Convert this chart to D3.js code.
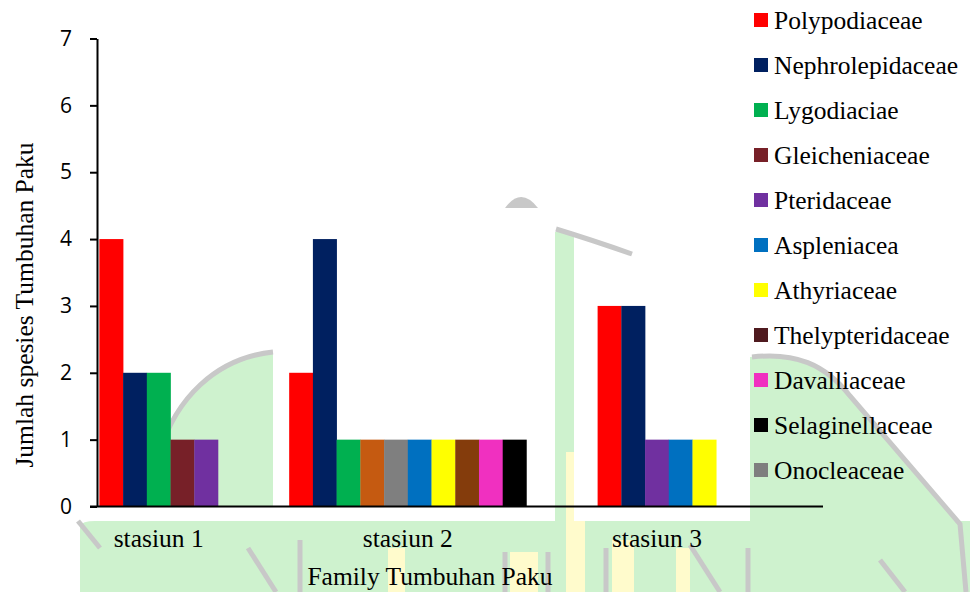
<!DOCTYPE html>
<html>
<head>
<meta charset="utf-8">
<script src="https://cdn.jsdelivr.net/npm/d3@7/dist/d3.min.js"></script>
<style>
  body { margin: 0; background: #ffffff; }
  .ticklabel { font-family: "Open Sans", "Noto Sans", sans-serif; font-size: 21px; fill: #000; }
  .serif { font-family: "Liberation Serif", "Times New Roman", serif; font-size: 25.5px; fill: #000; }
</style>
</head>
<body>
<div id="chart"></div>
<script>
// data
const stations = ["stasiun 1", "stasiun 2", "stasiun 3"];

const families = ["Polypodiaceae", "Nephrolepidaceae", "Lygodiaciae", "Gleicheniaceae", "Pteridaceae",
  "Aspleniacea", "Athyriaceae", "Thelypteridaceae", "Davalliaceae", "Selaginellaceae", "Onocleaceae"];

const station1Families = ["Polypodiaceae", "Nephrolepidaceae", "Lygodiaciae", "Gleicheniaceae", "Pteridaceae"];
const station1Counts = [4, 2, 2, 1, 1];

const station2Families = ["Polypodiaceae", "Nephrolepidaceae", "Lygodiaciae", "Gleicheniaceae", "Onocleaceae",
  "Aspleniacea", "Athyriaceae", "Thelypteridaceae", "Davalliaceae", "Selaginellaceae"];
const station2Counts = [2, 4, 1, 1, 1, 1, 1, 1, 1, 1];

const station3Families = ["Polypodiaceae", "Nephrolepidaceae", "Pteridaceae", "Aspleniacea", "Athyriaceae"];
const station3Counts = [3, 3, 1, 1, 1];

const yTicks = [0, 1, 2, 3, 4, 5, 6, 7];

// colours
const familyColors = ["#FF0000", "#002060", "#00B050", "#772028", "#7030A0",
  "#0070C0", "#FFFF00", "#4F1A1F", "#F030C0", "#000000", "#7F7F7F"];
// the second station uses two other shades in the original
const stationOverride = {
  "stasiun 2|Gleicheniaceae": "#C55A11",
  "stasiun 2|Thelypteridaceae": "#843C0C"
};

let chartW = 970, chartH = 592;
let plotLeft = 97, plotRight = 823, plotTop = 38.5, plotBottom = 506.5;
let groupGap = 3;

let svg = d3.select("#chart")
  .append("svg")
  .attr("width", chartW)
  .attr("height", chartH);

// faint logo watermark behind the chart
let wm = svg.append("g").attr("class", "watermark");
let green = "#CEF2CE", grey = "#C8C8C8", pale = "#FFFBCC";

wm.append("path")
  .attr("d", "M80,526 Q82,521 95,521 L970,521 L970,592 L80,592 Z")
  .attr("fill", green);
wm.append("path")
  .attr("d", "M160,452 C175,400 215,358 273,352 L273,506 L160,506 Z")
  .attr("fill", green);
wm.append("rect").attr("x", 555).attr("y", 232).attr("width", 19).attr("height", 289).attr("fill", green);
wm.append("path")
  .attr("d", "M750,357 C795,352 825,364 850,396 L960,524 L970,532 L970,592 L750,592 Z")
  .attr("fill", green);

// pale yellow stripes
[[388, 548, 17, 44], [510, 552, 28, 40], [566, 452, 8, 70], [566, 521, 19, 71], [612, 540, 22, 52], [676, 548, 14, 44]]
  .forEach(function(r) {
    wm.append("rect").attr("x", r[0]).attr("y", r[1]).attr("width", r[2]).attr("height", r[3]).attr("fill", pale);
  });

// grey outlines
["M160,452 C175,400 215,358 273,352",
 "M556,229 Q592,240 632,254",
 "M752,357 C795,352 825,364 850,396 L960,524 L966,592",
 "M78,521 L100,548",
 "M248,548 L276,592",
 "M300,540 L300,592",
 "M505,552 L505,592",
 "M548,552 L548,592",
 "M606,548 L606,592",
 "M690,545 L720,592",
 "M748,548 L748,592",
 "M880,560 L905,592"]
  .forEach(function(p) {
    wm.append("path").attr("d", p).attr("fill", "none")
      .attr("stroke", grey).attr("stroke-width", 5);
  });
wm.append("path").attr("d", "M505,208 Q521,186 538,208 Z").attr("fill", grey);

// bars: every bar takes one slot, the stations are separated by a gap
let stationFamilies = [station1Families, station2Families, station3Families];
let stationCounts = [station1Counts, station2Counts, station3Counts];

let bars = [];
let groups = [];
let offset = 0;
stations.forEach(function(s, k) {
  stationFamilies[k].forEach(function(f, j) {
    bars.push({ station: s, family: f, value: stationCounts[k][j], slot: offset + j });
  });
  groups.push({ station: s, center: offset + stationFamilies[k].length / 2 });
  offset += stationFamilies[k].length + groupGap;
});

let x = d3.scaleLinear()
  .domain([-0.1, 30.5])
  .range([plotLeft, plotRight]);

let y = d3.scaleLinear()
  .domain([0, 7])
  .range([plotBottom, plotTop]);

let color = d3.scaleOrdinal()
  .domain(families)
  .range(familyColors);

let barWidth = x(1) - x(0);

svg.selectAll(".bar")
  .data(bars)
  .enter().append("rect")
  .attr("class", "bar")
  .attr("x", function(d) { return x(d.slot); })
  .attr("y", function(d) { return y(d.value); })
  .attr("width", barWidth + 0.3)
  .attr("height", function(d) { return y(0) - y(d.value); })
  .attr("fill", function(d) {
    return stationOverride[d.station + "|" + d.family] || color(d.family);
  });

// value axis
let yAxis = d3.axisLeft(y)
  .tickValues(yTicks)
  .tickSize(7)
  .tickSizeOuter(0)
  .tickPadding(18)
  .tickFormat(d3.format("d"));

let gy = svg.append("g")
  .attr("transform", "translate(" + plotLeft + ",0)")
  .call(yAxis);
gy.attr("font-family", null).attr("font-size", null);
gy.select(".domain").attr("stroke", "#000").attr("stroke-width", 2);
gy.selectAll(".tick line").attr("stroke", "#000").attr("stroke-width", 2);
gy.selectAll(".tick text").attr("class", "ticklabel");

// category axis line
svg.append("line")
  .attr("x1", plotLeft - 7)
  .attr("x2", plotRight)
  .attr("y1", y(0))
  .attr("y2", y(0))
  .attr("stroke", "#000")
  .attr("stroke-width", 2);

svg.selectAll(".stationlabel")
  .data(groups)
  .enter().append("text")
  .attr("class", "serif")
  .attr("x", function(d) { return x(d.center); })
  .attr("y", 547)
  .style("text-anchor", "middle")
  .text(function(d) { return d.station; });

// axis titles
svg.append("text")
  .attr("class", "serif")
  .attr("x", 430)
  .attr("y", 585)
  .style("text-anchor", "middle")
  .text("Family Tumbuhan Paku");

svg.append("text")
  .attr("class", "serif")
  .attr("transform", "translate(33,305) rotate(-90)")
  .style("text-anchor", "middle")
  .text("Jumlah spesies Tumbuhan Paku");

// legend
let legendY = d3.scalePoint()
  .domain(families)
  .range([20, 470]);

let legend = svg.selectAll(".legend")
  .data(families)
  .enter().append("g")
  .attr("class", "legend")
  .attr("transform", function(d) { return "translate(754," + legendY(d) + ")"; });

legend.append("rect")
  .attr("x", 0)
  .attr("y", -7)
  .attr("width", 14)
  .attr("height", 14)
  .attr("fill", function(d) { return color(d); });

legend.append("text")
  .attr("class", "serif")
  .attr("x", 20)
  .attr("dy", "0.35em")
  .text(function(d) { return d; });
</script>
</body>
</html>
